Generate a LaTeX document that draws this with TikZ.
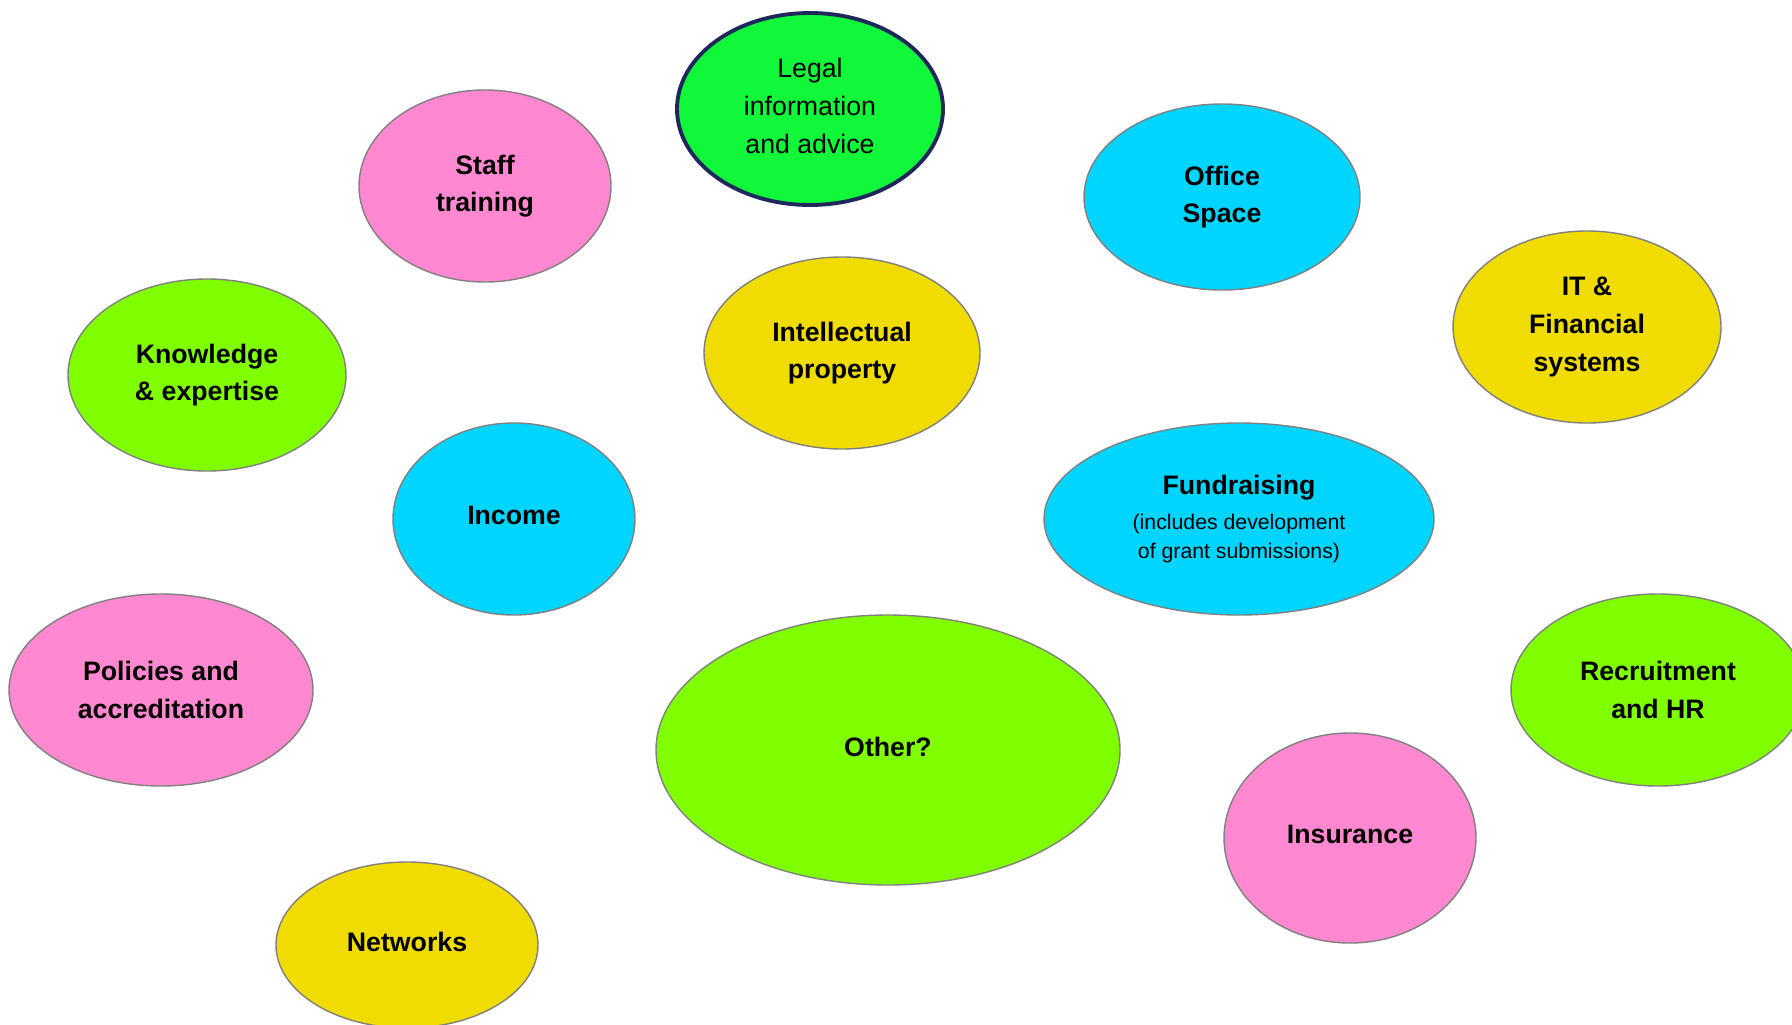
\documentclass[tikz,border=0pt]{standalone}
\usepackage{fontspec}
\setmainfont{Liberation Sans}
\usetikzlibrary{shapes.geometric}

\definecolor{blobpink}{RGB}{255,136,208}
\definecolor{blobcyan}{RGB}{0,213,255}
\definecolor{blobyellow}{RGB}{240,220,0}
\definecolor{blobgreen}{RGB}{128,255,0}
\definecolor{legalgreen}{RGB}{17,248,59}
\definecolor{legalline}{RGB}{30,40,90}
\definecolor{blobline}{RGB}{128,128,128}

\begin{document}
\begin{tikzpicture}[
    x=0.1mm, y=-0.1mm,
    % --- ellipse styles ---
    blob/.style={ellipse, draw=blobline, line width=0.4pt, inner sep=0pt, align=center,
                 font=\bfseries\fontsize{7.6}{10.7}\selectfont},
    pinkblob/.style={blob, fill=blobpink},
    cyanblob/.style={blob, fill=blobcyan},
    yellowblob/.style={blob, fill=blobyellow},
    greenblob/.style={blob, fill=blobgreen},
    legalblob/.style={blob, fill=legalgreen, draw=legalline, line width=1.1pt,
                 font=\fontsize{7.6}{10.8}\selectfont},
    % lift one-line labels a little
    lift/.style={text depth=2pt}
]
\useasboundingbox (0,0) rectangle (1792,1024);

% top row
\node[legalblob, lift, minimum width=2.66cm, minimum height=1.92cm] (legal) at (810,109) {Legal\\information\\and advice};
\node[pinkblob, minimum width=2.52cm, minimum height=1.92cm] (staff) at (485,186) {Staff\\training};
\node[cyanblob, minimum width=2.76cm, minimum height=1.86cm] (office) at (1222,197) {Office\\Space};
\node[yellowblob, minimum width=2.68cm, minimum height=1.92cm] (itfin) at (1587,327) {IT \&\\Financial\\systems};

% middle
\node[greenblob, minimum width=2.78cm, minimum height=1.92cm] (knowledge) at (207,375) {Knowledge\\\& expertise};
\node[yellowblob, minimum width=2.76cm, minimum height=1.92cm] (ip) at (842,353) {Intellectual\\property};
\node[cyanblob, lift, minimum width=2.42cm, minimum height=1.92cm] (income) at (514,519) {Income};
\node[cyanblob, minimum width=3.90cm, minimum height=1.92cm] (fund) at (1239,519)
    {Fundraising\\[-0.7pt]{\mdseries\fontsize{6.05}{7.7}\selectfont (includes development}\\[-2.7pt]{\mdseries\fontsize{6.05}{7.7}\selectfont of grant submissions)}};

% bottom
\node[pinkblob, minimum width=3.04cm, minimum height=1.92cm] (policies) at (161,690) {Policies and\\accreditation};
\node[greenblob, lift, minimum width=4.64cm, minimum height=2.70cm] (other) at (888,750) {Other?};
\node[greenblob, minimum width=2.94cm, minimum height=1.92cm] (recruit) at (1658,690) {Recruitment\\and HR};
\node[pinkblob, lift, minimum width=2.52cm, minimum height=2.10cm] (insurance) at (1350,838) {Insurance};
\node[yellowblob, lift, minimum width=2.62cm, minimum height=1.66cm] (networks) at (407,945) {Networks};

\end{tikzpicture}
\end{document}
